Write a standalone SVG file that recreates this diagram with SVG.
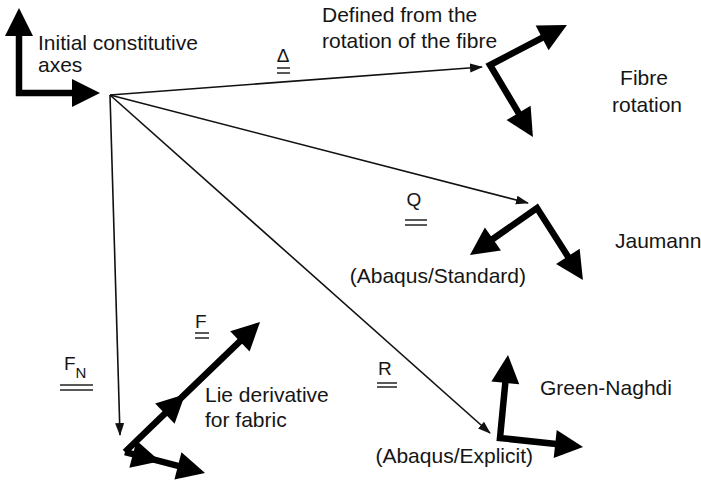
<svg xmlns="http://www.w3.org/2000/svg" width="701" height="484" viewBox="0 0 701 484">
<style>
.t{font-family:"Liberation Sans",Arial,sans-serif;font-size:21px;fill:#151515}
.s{font-family:"Liberation Sans",Arial,sans-serif;font-size:19px;fill:#151515}
.thin{fill:none;stroke:#111;stroke-width:1.6;marker-end:url(#thinHead)}
.thick{fill:none;stroke:#000;stroke-width:6.5;stroke-linejoin:miter;marker-start:url(#thickHeadR);marker-end:url(#thickHead)}
.fab{fill:none;stroke:#000;stroke-width:6.5;marker-mid:url(#thickHead);marker-end:url(#thickHead)}
.dbl{stroke:#222;stroke-width:1.5}
</style>
<defs>
<marker id="thinHead" markerUnits="userSpaceOnUse" markerWidth="13" markerHeight="10" viewBox="0 0 13 10" refX="12" refY="5" orient="auto">
<path d="M0,0.5 L13,5 L0,9.5 z" fill="#111"/>
</marker>
<marker id="thickHead" markerUnits="userSpaceOnUse" markerWidth="28" markerHeight="28" viewBox="0 0 28 28" refX="1" refY="14" orient="auto" overflow="visible">
<path d="M0,0 L28,14 L0,28 z" fill="#000"/>
</marker>
<marker id="thickHeadR" markerUnits="userSpaceOnUse" markerWidth="28" markerHeight="28" viewBox="0 0 28 28" refX="1" refY="14" orient="auto-start-reverse" overflow="visible">
<path d="M0,0 L28,14 L0,28 z" fill="#000"/>
</marker>
</defs>

<g id="connectors">
<line class="thin" x1="110" y1="95" x2="482" y2="67"/>
<line class="thin" x1="110" y1="95" x2="528" y2="203"/>
<line class="thin" x1="110" y1="95" x2="490" y2="433"/>
<line class="thin" x1="110" y1="95" x2="120" y2="435"/>
</g>

<g id="initial-axes">
<path class="thick" d="M19,35 L19,93 L73,93"/>
<text class="t" x="38" y="50">Initial constitutive</text>
<text class="t" x="38" y="72">axes</text>
</g>

<g id="fibre-rotation">
<path class="thick" d="M543,37.4 L490,65 L519.1,113.8"/>
<text class="t" x="322" y="22">Defined from the</text>
<text class="t" x="322" y="48">rotation of the fibre</text>
<text class="t" x="644" y="85" text-anchor="middle">Fibre</text>
<text class="t" x="647" y="112" text-anchor="middle">rotation</text>
</g>

<g id="jaumann">
<path class="thick" d="M492.1,239.5 L537,208 L568.4,257.2"/>
<text class="t" x="615" y="248">Jaumann</text>
<text class="t" x="526" y="283" text-anchor="end">(Abaqus/Standard)</text>
</g>

<g id="green-naghdi">
<path class="thick" d="M505.4,381.9 L500,438 L556.2,444.1"/>
<text class="t" x="540" y="395">Green-Naghdi</text>
<text class="t" x="533" y="463" text-anchor="end">(Abaqus/Explicit)</text>
</g>

<g id="lie-derivative">
<path class="fab" d="M125,452 L165.6,412.9 L240.6,340.7"/>
<path class="fab" d="M125,452 L133.9,454.4 L178.9,466.1"/>
<text class="t" x="205" y="402">Lie derivative</text>
<text class="t" x="205" y="427">for fabric</text>
</g>

<g id="labels">
<text class="s" x="283" y="62" text-anchor="middle">Δ</text>
<line class="dbl" x1="277" y1="68" x2="290" y2="68"/>
<line class="dbl" x1="277" y1="73" x2="290" y2="73"/>
<text class="s" x="414" y="206" text-anchor="middle">Q</text>
<line class="dbl" x1="405" y1="220" x2="427" y2="220"/>
<line class="dbl" x1="405" y1="225" x2="427" y2="225"/>
<text class="s" x="64" y="370">F<tspan font-size="15" dy="8">N</tspan></text>
<line class="dbl" x1="60" y1="385" x2="93" y2="385"/>
<line class="dbl" x1="60" y1="390" x2="93" y2="390"/>
<text class="s" x="195" y="328">F</text>
<line class="dbl" x1="195" y1="333" x2="209" y2="333"/>
<line class="dbl" x1="195" y1="338" x2="209" y2="338"/>
<text class="s" x="378" y="375">R</text>
<line class="dbl" x1="377" y1="383" x2="397" y2="383"/>
<line class="dbl" x1="377" y1="387" x2="397" y2="387"/>
</g>
</svg>
